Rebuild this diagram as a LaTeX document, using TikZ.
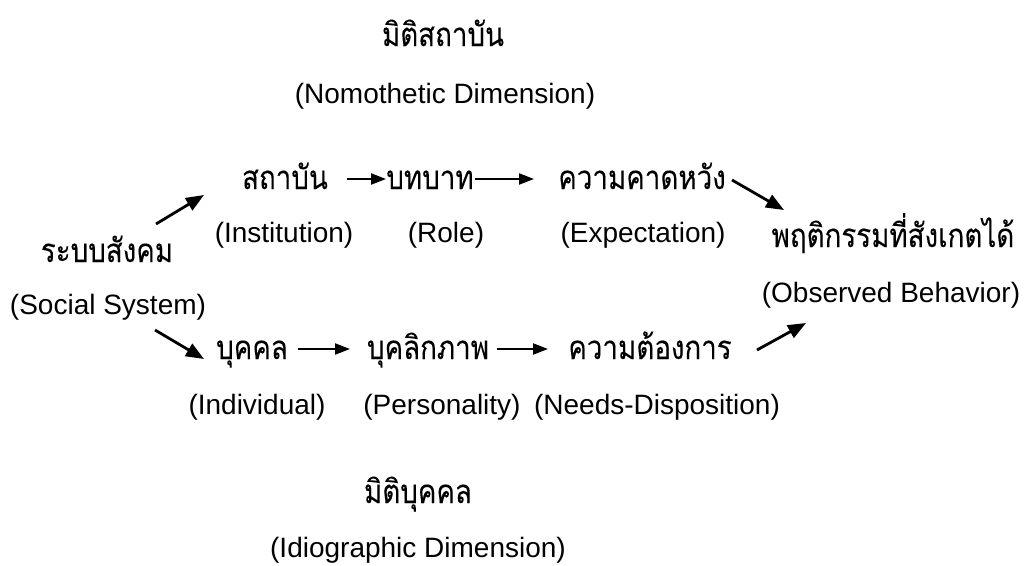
\documentclass[tikz,border=0pt]{standalone}
\usepackage{fontspec}
\setmainfont{Liberation Sans}
\newfontfamily\thaifont[Script=Thai,FakeStretch=0.84,FakeBold=0.1]{Loma}
\usetikzlibrary{arrows.meta}
\begin{document}
\begin{tikzpicture}[x=1pt,y=-1pt,
  en/.style={anchor=base,inner sep=0pt,font=\fontsize{28}{32}\selectfont},
  th/.style={anchor=base,inner sep=0pt,font=\fontsize{33}{36}\selectfont\thaifont},
  arr/.style={-{Triangle[length=15pt,width=11pt]},line width=2.2pt},
  darr/.style={-{Triangle[length=18pt,width=14pt]},line width=2.8pt}]
\useasboundingbox (0,0) rectangle (1025,565);
% headings
\node[th] (nomoth) at (443,46) {มิติสถาบัน};
\node[en] (nomoen) at (445,103) {(Nomothetic Dimension)};
\node[th] (idioth) at (418,503) {มิติบุคคล};
\node[en] (idioen) at (418,557) {(Idiographic Dimension)};
% left
\node[th] (ssth) at (107,262) {ระบบสังคม};
\node[en] (ssen) at (108,314) {(Social System)};
% upper row
\node[th] (instth) at (285,189) {สถาบัน};
\node[en] (insten) at (284,242) {(Institution)};
\node[th] (roleth) at (430,189) {บทบาท};
\node[en] (roleen) at (446,242) {(Role)};
\node[th] (expth) at (642,189) {ความคาดหวัง};
\node[en] (expen) at (643,242) {(Expectation)};
% right
\node[th] (obth) at (893,247) {พฤติกรรมที่สังเกตได้};
\node[en] (oben) at (891,302) {(Observed Behavior)};
% lower row
\node[th] (indth) at (252,359) {บุคคล};
\node[en] (inden) at (257,414) {(Individual)};
\node[th] (perth) at (428,359) {บุคลิกภาพ};
\node[en] (peren) at (442,414) {(Personality)};
\node[th] (needth) at (650,359) {ความต้องการ};
\node[en] (needen) at (657,414) {(Needs-Disposition)};
% arrow end points
\coordinate (a1s) at (156,224); \coordinate (a1e) at (204,195);
\coordinate (a2s) at (347,179); \coordinate (a2e) at (386,179);
\coordinate (a3s) at (475,179); \coordinate (a3e) at (534,179);
\coordinate (a4s) at (732,180); \coordinate (a4e) at (784,210);
\coordinate (b1s) at (155,330); \coordinate (b1e) at (204,359);
\coordinate (b2s) at (298,349); \coordinate (b2e) at (350,349);
\coordinate (b3s) at (497,349); \coordinate (b3e) at (548,349);
\coordinate (b4s) at (757,350); \coordinate (b4e) at (806,323);
\draw[darr] (a1s) -- (a1e);
\draw[arr] (a2s) -- (a2e);
\draw[arr] (a3s) -- (a3e);
\draw[darr] (a4s) -- (a4e);
\draw[darr] (b1s) -- (b1e);
\draw[arr] (b2s) -- (b2e);
\draw[arr] (b3s) -- (b3e);
\draw[darr] (b4s) -- (b4e);
\end{tikzpicture}
\end{document}
